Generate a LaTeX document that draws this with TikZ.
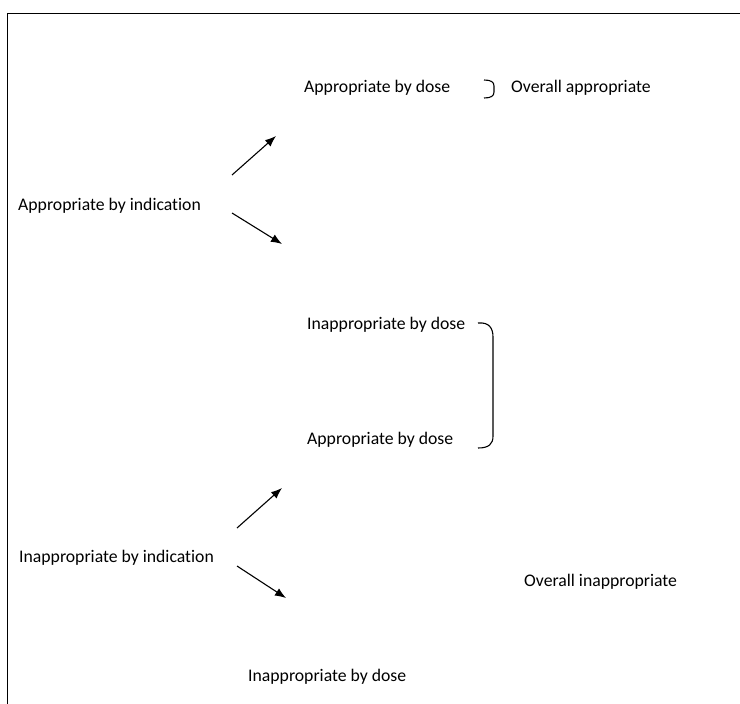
\documentclass[tikz,border=0pt]{standalone}
\usepackage{fontspec}
\setmainfont[Ligatures=NoCommon]{Carlito}
\usetikzlibrary{arrows.meta}
\begin{document}
\begin{tikzpicture}[x=1pt,y=-1pt,
  lbl/.style={anchor=base west,inner sep=0pt,font=\fontsize{17.7}{21}\selectfont},
  arr/.style={line width=1.1pt,-{Latex[length=11pt,width=8.5pt]}},
  brk/.style={line width=1.1pt}]
\useasboundingbox (0,0) rectangle (740,704);
\draw[line width=1pt] (740,13) -- (7,13) -- (7,704);
% texts
\node[lbl] (d1) at (304,92) {Appropriate by dose};
\node[lbl] (oa) at (511,92) {Overall appropriate};
\node[lbl] (ai) at (18,210) {Appropriate by indication};
\node[lbl] (d2) at (307,329) {Inappropriate by dose};
\node[lbl] (d3) at (307,444) {Appropriate by dose};
\node[lbl] (oi) at (524,586) {Overall inappropriate};
\node[lbl] (ii) at (19,562) {Inappropriate by indication};
\node[lbl] (d4) at (248,681) {Inappropriate by dose};
% arrows
\coordinate (a1s) at (232,175); \coordinate (a1e) at (276,136);
\coordinate (a2s) at (232,213); \coordinate (a2e) at (282,244);
\coordinate (a3s) at (237,528); \coordinate (a3e) at (282,488);
\coordinate (a4s) at (237,566); \coordinate (a4e) at (286,598);
\draw[arr] (a1s) -- (a1e);
\draw[arr] (a2s) -- (a2e);
\draw[arr] (a3s) -- (a3e);
\draw[arr] (a4s) -- (a4e);
% brackets
\draw[brk] (484,80) .. controls (491,80) and (494,82) .. (494,86) -- (494,92) .. controls (494,96) and (491,98) .. (484,98);
\draw[brk] (478,323) .. controls (489,322) and (493,328) .. (493,337) -- (493,436) .. controls (493,444) and (489,448) .. (478,448);
\end{tikzpicture}
\end{document}
